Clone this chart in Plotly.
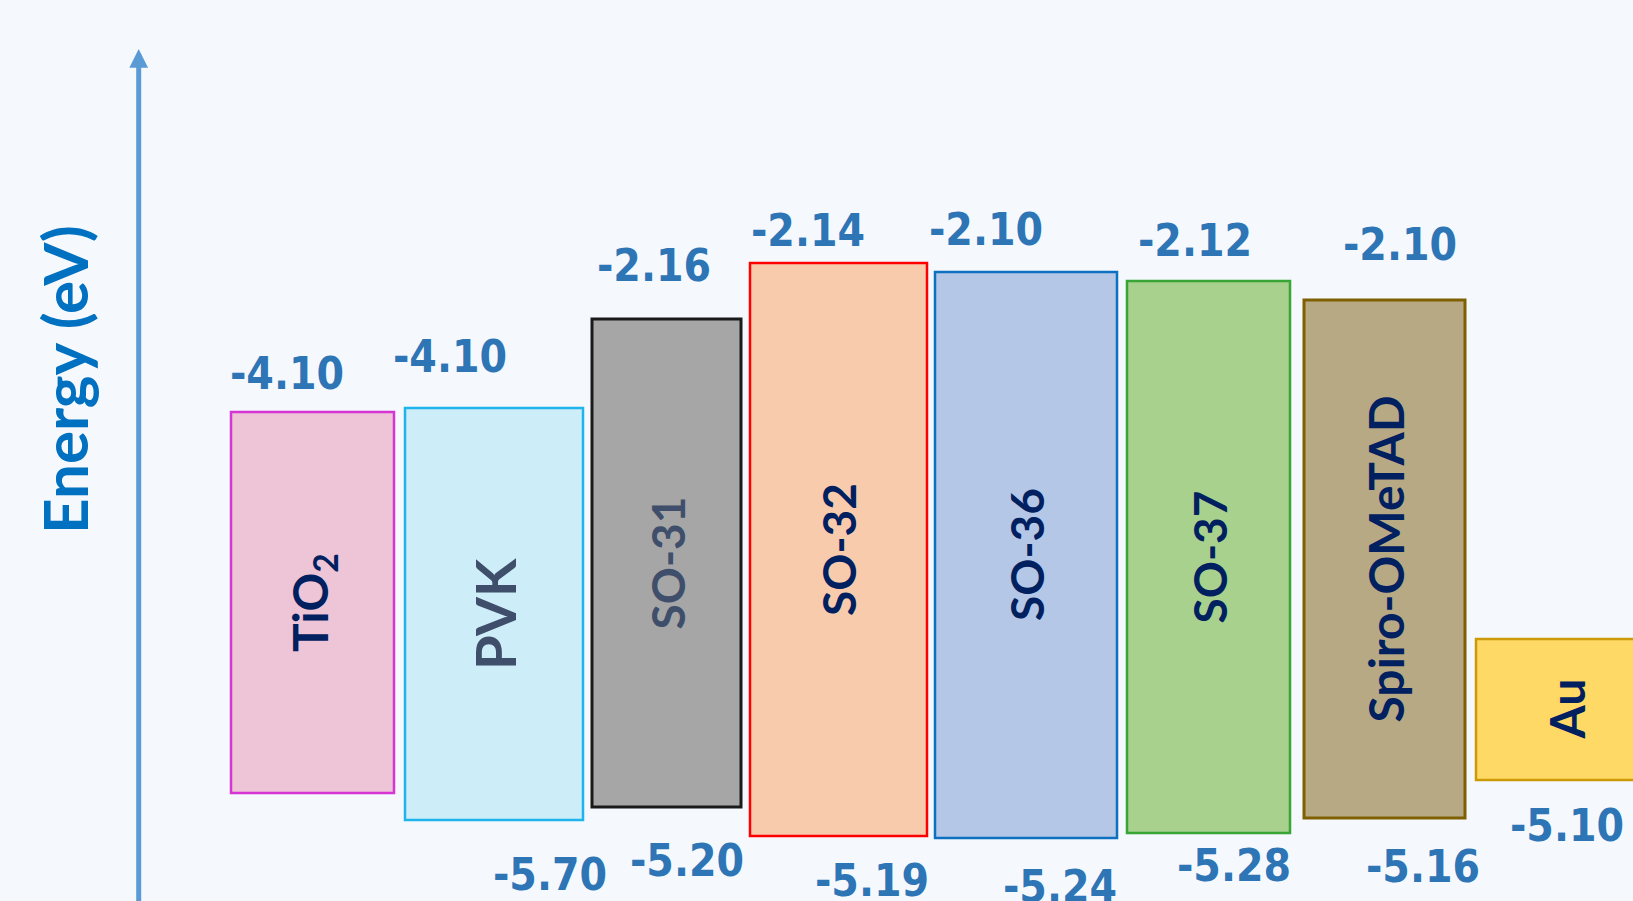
import plotly.graph_objects as go

# ---- data -------------------------------------------------------------
materials = ["TiO<sub>2</sub>", "PVK", "SO-31", "SO-32", "SO-36", "SO-37", "Spiro-OMeTAD", "Au"]

# energy values printed on the diagram (eV)
lumo_text = ["-4.10", "-4.10", "-2.16", "-2.14", "-2.10", "-2.12", "-2.10"]          # TiO2 .. Spiro
homo_text = ["-5.70", "-5.20", "-5.19", "-5.24", "-5.28", "-5.16", "-5.10"]          # PVK .. Au

# schematic (not-to-scale) drawn levels, in diagram height units
box_top = [4.89, 4.93, 5.82, 6.38, 6.29, 6.20, 6.01, 2.62]
box_bottom = [1.08, 0.81, 0.94, 0.65, 0.63, 0.68, 0.83, 1.21]
box_left = [2.31, 4.05, 5.92, 7.50, 9.35, 11.27, 13.04, 14.76]
box_right = [3.94, 5.83, 7.41, 9.27, 11.17, 12.90, 14.65, 16.56]

# value label anchor points (diagram units)
lumo_x = [2.87, 4.50, 6.54, 8.08, 9.86, 11.95, 14.00]
lumo_y = [5.23, 5.40, 6.31, 6.66, 6.67, 6.56, 6.52]
homo_x = [5.50, 6.87, 8.72, 10.60, 12.34, 14.23, 15.67]
homo_y = [0.22, 0.36, 0.16, 0.10, 0.31, 0.30, 0.71]

# energy axis arrow (diagram units)
axis_x = 1.387
axis_y0 = -0.5
axis_y1 = 8.52

# ---- styles -----------------------------------------------------------
BG = "#F5F9FE"
fills = ["#EDC5D7", "#CDEEF8", "#A6A6A6", "#F8CBAD", "#B4C7E7", "#A9D18E", "#B8A985", "#FFD966"]
borders = ["#D635D4", "#1FB5EC", "#1A1A1A", "#FF0000", "#0E70C0", "#38A535", "#7F6000", "#CC9A06"]
border_w = [2.5, 2.5, 3, 2.5, 2.5, 2.5, 3, 2.5]
label_colors = ["#002060", "#3F4F6B", "#3F4F6B", "#002060", "#002060", "#002060", "#002060", "#002060"]
label_sizes = [48, 56, 46, 46, 46, 46, 48, 48]
VALUE_COLOR = "#2E75B6"

centers = [(l + r) / 2 for l, r in zip(box_left, box_right)]
widths = [r - l for l, r in zip(box_left, box_right)]
heights = [t - b for t, b in zip(box_top, box_bottom)]

fig = go.Figure()

fig.add_trace(go.Bar(
    x=centers, y=heights, base=box_bottom, width=widths,
    marker=dict(color=fills, line=dict(color=borders, width=border_w)),
    hoverinfo="skip", showlegend=False,
))

value_font = dict(family="DejaVu Sans Condensed, DejaVu Sans", size=44, color=VALUE_COLOR, weight="bold")
fig.add_trace(go.Scatter(x=lumo_x, y=lumo_y, mode="text", text=lumo_text,
                         textposition="middle center", textfont=value_font,
                         hoverinfo="skip", showlegend=False, cliponaxis=False))
fig.add_trace(go.Scatter(x=homo_x, y=homo_y, mode="text", text=homo_text,
                         textposition="middle center", textfont=value_font,
                         hoverinfo="skip", showlegend=False, cliponaxis=False))

annotations = []
for name, cx, t, b, col, sz in zip(materials, centers, box_top, box_bottom, label_colors, label_sizes):
    annotations.append(dict(
        x=cx, y=(t + b) / 2, xref="x", yref="y", text="<b>%s</b>" % name,
        showarrow=False, textangle=-90, xanchor="center", yanchor="middle",
        font=dict(family="Lato, Open Sans, sans-serif", size=sz, color=col),
    ))

# energy axis arrow
annotations.append(dict(
    x=axis_x, y=axis_y1, ax=axis_x, ay=axis_y0, xref="x", yref="y", axref="x", ayref="y",
    text="", showarrow=True, arrowhead=2, arrowsize=0.75, arrowwidth=5, arrowcolor="#5B9BD5",
    standoff=0, startstandoff=0,
))

# axis title
annotations.append(dict(
    x=0.64, y=5.21, xref="x", yref="y", text="<b>Energy (eV)</b>",
    showarrow=False, textangle=-90, xanchor="center", yanchor="middle",
    font=dict(family="Lato, Open Sans, sans-serif", size=62, color="#0070C0"),
))

fig.update_layout(
    width=1633, height=901,
    margin=dict(l=0, r=0, t=0, b=0, pad=0),
    paper_bgcolor=BG, plot_bgcolor=BG,
    barmode="overlay", showlegend=False,
    xaxis=dict(range=[0, 16.33], visible=False, fixedrange=True),
    yaxis=dict(range=[0, 9.01], visible=False, fixedrange=True),
    annotations=annotations,
)

fig.write_html("out.html", config={"displayModeBar": False},
               post_script="document.body.style.margin='0px';")
